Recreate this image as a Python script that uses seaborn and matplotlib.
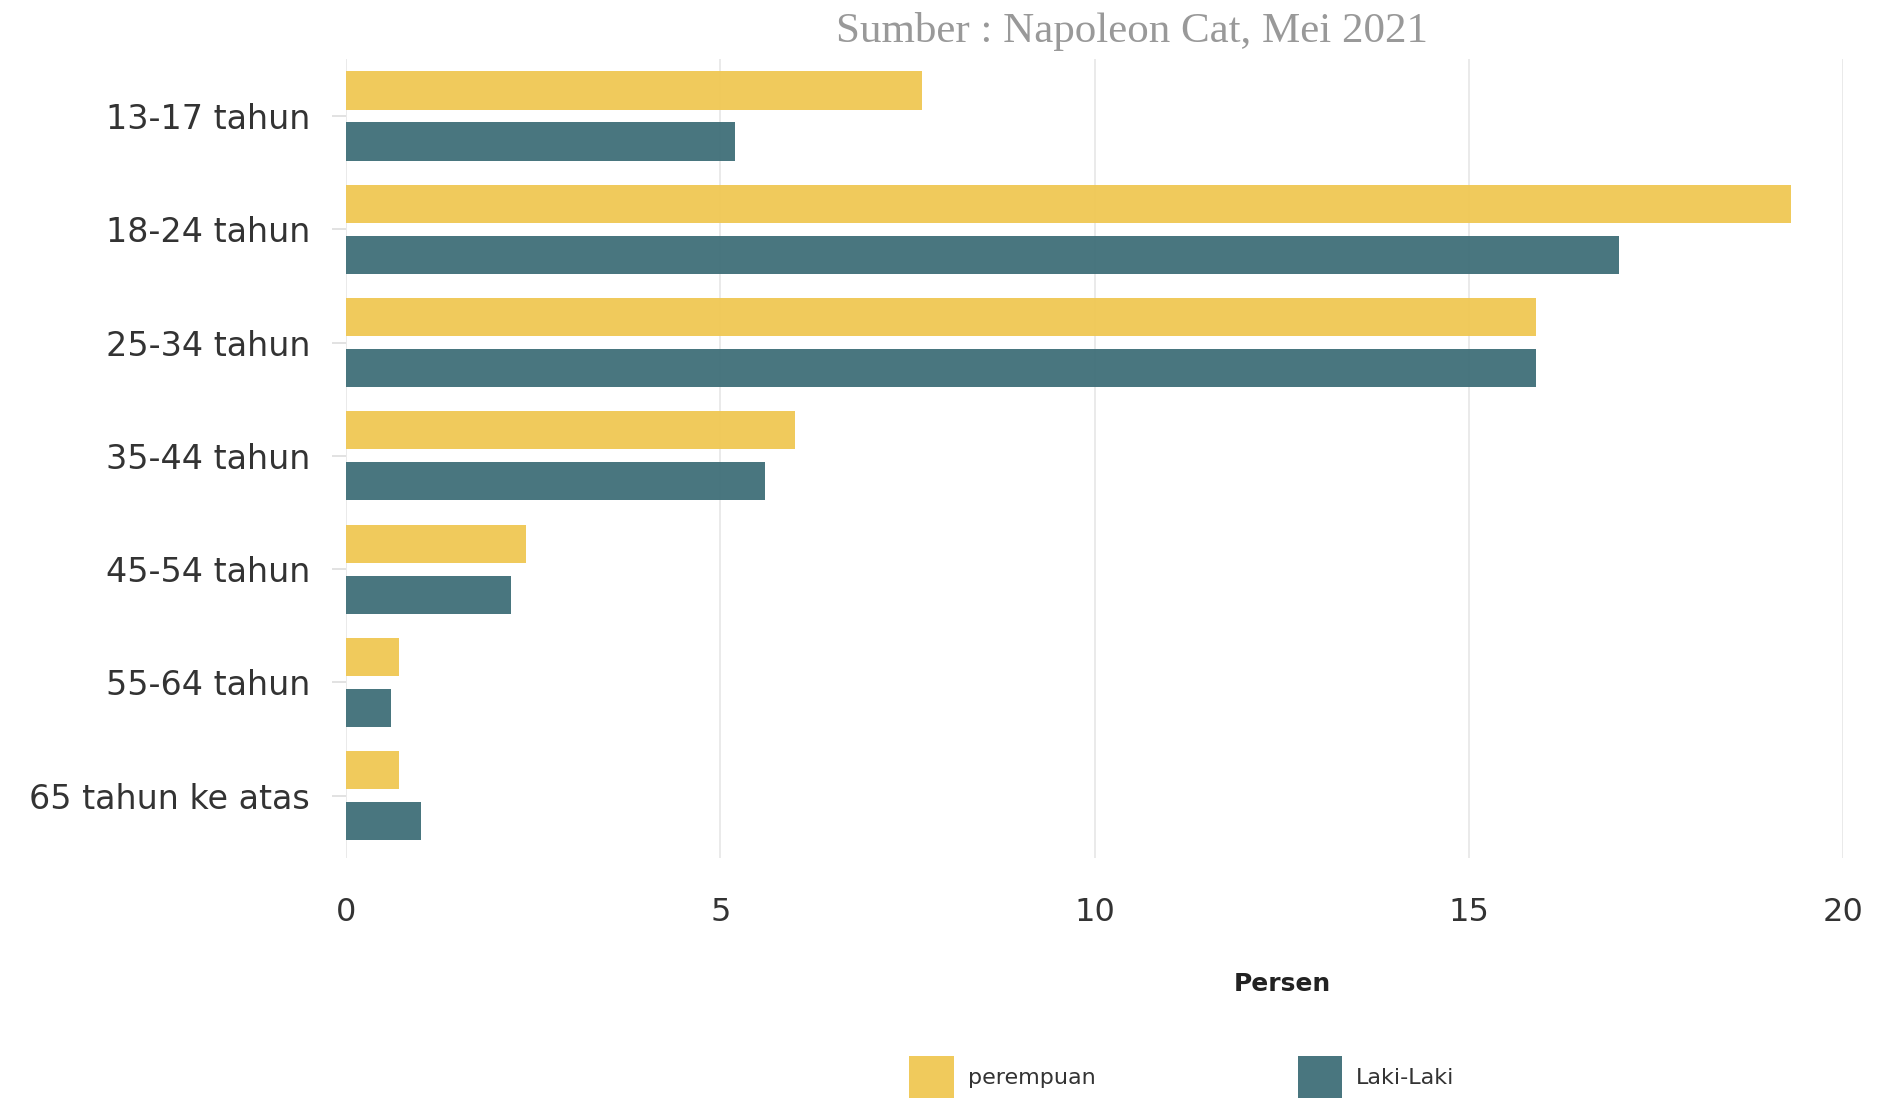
import pandas as pd
import numpy as np
import seaborn as sns
import matplotlib.pyplot as plt


kelompok_umur = ['13-17 tahun', '18-24 tahun', '25-34 tahun', '35-44 tahun',
                 '45-54 tahun', '55-64 tahun', '65 tahun ke atas']
perempuan = [7.7, 19.3, 15.9, 6.0, 2.4, 0.7, 0.7]
laki_laki = [5.2, 17.0, 15.9, 5.6, 2.2, 0.6, 1.0]
series = ['perempuan', 'Laki-Laki']
colors = ['#f0c853', '#3f6f78']
x_ticks = [0, 5, 10, 15, 20]

df = pd.DataFrame({
    'umur': kelompok_umur * 2,
    'persen': perempuan + laki_laki,
    'jenis': [series[0]] * len(perempuan) + [series[1]] * len(laki_laki),
})

sns.set_style('white')
plt.rcParams['font.family'] = ['DejaVu Sans']

fig = plt.figure(figsize=(19.02, 10.98), dpi=100)
ax = fig.add_axes([0.182, 0.2185, 0.787, 0.7275])

sns.barplot(data=df, y='umur', x='persen', hue='jenis', order=kelompok_umur,
            hue_order=series, palette=colors, saturation=1, orient='h',
            width=0.9, gap=0.25, alpha=0.95, linewidth=0, errorbar=None, ax=ax)

ax.set_xlim(0, 20)
ax.set_ylim(6.55, -0.5)
ax.set_xticks(x_ticks)
ax.grid(axis='x', color='#e6e6e6', linewidth=1.2)
ax.set_axisbelow(True)
for s in ['top', 'right', 'bottom', 'left']:
    ax.spines[s].set_visible(False)

ax.tick_params(axis='y', length=10, width=1.2, color='#dddddd', pad=16,
               labelsize=24, labelcolor='#333333', left=True)
ax.tick_params(axis='x', length=0, pad=28, labelsize=23, labelcolor='#333333')
ax.set_xlabel('')
ax.set_ylabel('')

# judul sumber di atas
fig.text(0.595, 0.971, 'Sumber : Napoleon Cat, Mei 2021', ha='center', va='center',
         fontsize=31, color='#999999', family='Liberation Serif')

# label sumbu x
fig.text(0.674, 0.104, 'Persen', ha='center', va='center', fontsize=18,
         fontweight='bold', color='#222222')

sns.move_legend(ax, 'upper left', bbox_to_anchor=(0.478, 0.0383),
                bbox_transform=fig.transFigure, ncol=2, frameon=False, title=None,
                fontsize=16, handlelength=2.0, handleheight=2.6, handletextpad=0.63,
                columnspacing=9.1, borderpad=0, borderaxespad=0)
for t in ax.get_legend().get_texts():
    t.set_color('#333333')

fig.savefig('out.png', dpi=100)
